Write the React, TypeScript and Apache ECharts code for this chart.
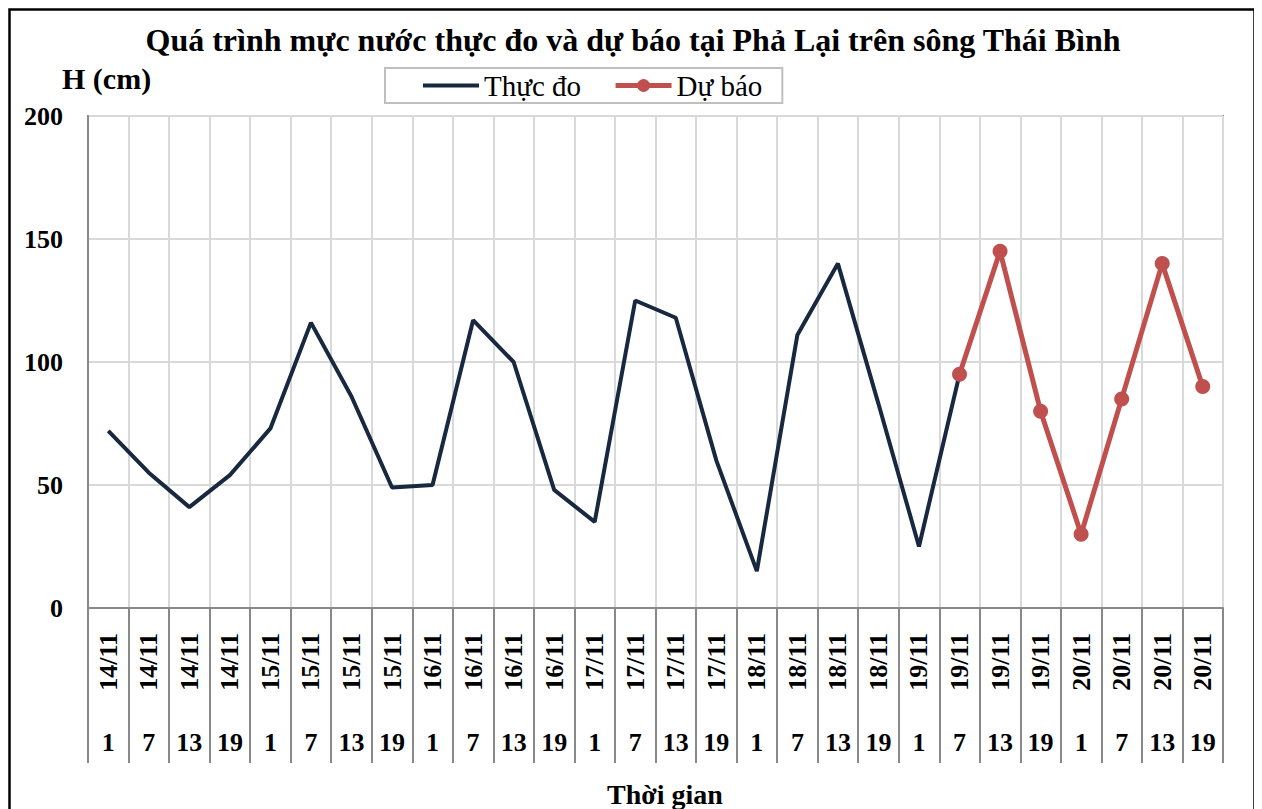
import React, { useEffect, useRef } from "react";
import * as echarts from "echarts";

const dates = [
  "14/11", "14/11", "14/11", "14/11",
  "15/11", "15/11", "15/11", "15/11",
  "16/11", "16/11", "16/11", "16/11",
  "17/11", "17/11", "17/11", "17/11",
  "18/11", "18/11", "18/11", "18/11",
  "19/11", "19/11", "19/11", "19/11",
  "20/11", "20/11", "20/11", "20/11",
];
const hours = [
  "1", "7", "13", "19", "1", "7", "13", "19", "1", "7", "13", "19", "1", "7",
  "13", "19", "1", "7", "13", "19", "1", "7", "13", "19", "1", "7", "13", "19",
];
const measured: (number | null)[] = [
  72, 55, 41, 54, 73, 116, 86, 49, 50, 117, 100, 48, 35, 125, 118, 60, 15, 111,
  140, 83, 25, 95, null, null, null, null, null, null,
];
const forecast: (number | null)[] = [
  null, null, null, null, null, null, null, null, null, null, null, null, null,
  null, null, null, null, null, null, null, null, 95, 145, 80, 30, 85, 140, 90,
];
const yTicks = { min: 0, max: 200, interval: 50 };

const FONT = "Liberation Serif";

export default function App() {
  const ref = useRef<HTMLDivElement>(null);
  useEffect(() => {
    document.body.style.overflow = "hidden";
    const chart = echarts.init(ref.current!, null, { renderer: "svg" });
    const cats = dates.map((d, i) => d + "|" + hours[i]);
    chart.setOption({
      animation: false,
      backgroundColor: "#fff",
      title: {
        text: "Quá trình mực nước thực đo và dự báo tại Phả Lại trên sông Thái Bình",
        left: "center",
        top: 11,
        textStyle: { fontFamily: FONT, fontSize: 32, fontWeight: "bold", color: "#000" },
      },
      legend: {
        left: 377,
        top: 60,
        padding: [3, 20, 3, 36],
        itemGap: 32,
        itemWidth: 56,
        itemHeight: 16,
        borderColor: "#bfbfbf",
        borderWidth: 2,
        textStyle: { fontFamily: FONT, fontSize: 29, color: "#000" },
        data: [
          { name: "Thực đo", itemStyle: { opacity: 0 }, lineStyle: { width: 4 } },
          { name: "Dự báo", lineStyle: { width: 5 } },
        ],
      },
      graphic: [
        {
          type: "rect",
          shape: { x: 1.5, y: 1.5, width: 1245, height: 900 },
          style: { fill: "none", stroke: "#000", lineWidth: 2.5 },
        },
        {
          type: "text",
          left: 54,
          top: 55,
          style: { text: "H (cm)", fontFamily: FONT, fontWeight: "bold", fontSize: 30, fill: "#000" },
        },
        {
          type: "text",
          x: 657,
          y: 786,
          style: {
            text: "Thời gian",
            fontFamily: FONT,
            fontWeight: "bold",
            fontSize: 28,
            fill: "#000",
            align: "center",
            verticalAlign: "middle",
          },
        },
      ],
      grid: { left: 80, top: 108, width: 1135, height: 492, show: true, borderColor: "#898989", borderWidth: 2 },
      xAxis: [
        {
          type: "category",
          data: cats,
          boundaryGap: true,
          position: "bottom",
          axisLine: { lineStyle: { color: "#898989", width: 2 } },
          axisTick: { show: true, length: 155, interval: 0, lineStyle: { color: "#898989", width: 2 } },
          splitLine: { show: true, interval: 0, lineStyle: { color: "#d9d9d9", width: 2 } },
          axisLabel: {
            interval: 0,
            rotate: 90,
            margin: 25,
            fontFamily: FONT,
            fontSize: 26,
            fontWeight: "bold",
            color: "#000",
            formatter: (v: string) => v.split("|")[0],
          },
        },
        {
          type: "category",
          data: cats,
          boundaryGap: true,
          position: "bottom",
          offset: 0,
          axisLine: { show: false },
          axisTick: { show: false },
          splitLine: { show: false },
          axisLabel: {
            interval: 0,
            margin: 121,
            fontFamily: FONT,
            fontSize: 26,
            fontWeight: "bold",
            color: "#000",
            formatter: (v: string) => v.split("|")[1],
          },
        },
      ],
      yAxis: {
        type: "value",
        min: yTicks.min,
        max: yTicks.max,
        interval: yTicks.interval,
        axisLine: { show: true, lineStyle: { color: "#898989", width: 2 } },
        axisTick: { show: false },
        splitLine: { lineStyle: { color: "#d9d9d9", width: 2 } },
        axisLabel: { margin: 25, fontFamily: FONT, fontSize: 26, fontWeight: "bold", color: "#000" },
      },
      series: [
        {
          name: "Thực đo",
          type: "line",
          xAxisIndex: 0,
          data: measured,
          symbol: "none",
          lineStyle: { color: "#17283f", width: 4 },
          itemStyle: { color: "#17283f" },
          z: 2,
        },
        {
          name: "Dự báo",
          type: "line",
          xAxisIndex: 0,
          data: forecast,
          symbol: "circle",
          symbolSize: 15,
          lineStyle: { color: "#c0504d", width: 5 },
          itemStyle: { color: "#c0504d" },
          z: 3,
        },
      ],
    });
    return () => chart.dispose();
  }, []);
  return <div ref={ref} style={{ width: 1250, height: 801 }} />;
}
